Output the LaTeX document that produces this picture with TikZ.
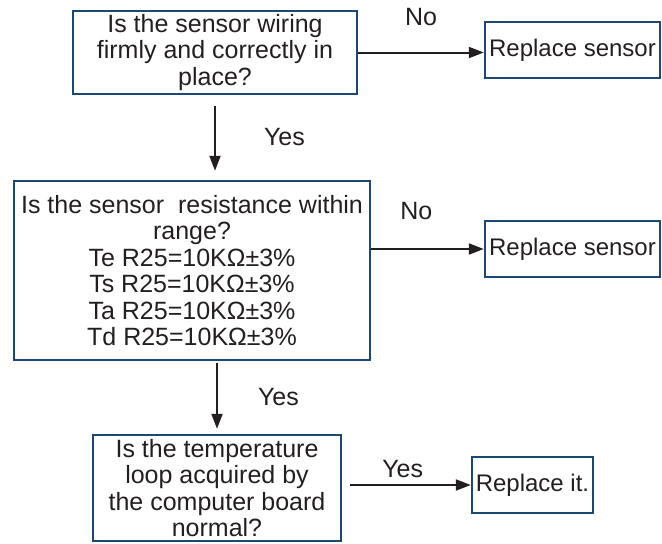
\documentclass[tikz,border=0pt]{standalone}
\usepackage{fontspec}
\setmainfont{Liberation Sans}
\usetikzlibrary{arrows.meta}
\definecolor{boxblue}{RGB}{28,72,118}
\definecolor{inkgray}{RGB}{35,31,32}

\begin{document}
\begin{tikzpicture}[x=1pt,y=-1pt,
  every node/.style={text=inkgray, font=\fontsize{25}{26.4}\selectfont},
  checkbox/.style={draw=boxblue, line width=2.4pt, align=center, inner sep=0pt},
  actionbox/.style={checkbox, minimum height=56pt, font=\fontsize{24}{26}\selectfont},
  flow/.style={draw=inkgray, line width=2pt, -{Triangle[length=15pt,width=11pt]}},
  answer/.style={inner sep=0pt}]

\useasboundingbox (0,0) rectangle (662,544);

% questions
\node[checkbox, minimum width=284pt, minimum height=83pt] (wiring) at (215,52.5)
  {Is the sensor wiring\\firmly and correctly in\\place?};
\node[checkbox, minimum width=356pt, minimum height=179pt] (range) at (192,270.5)
  {Is the sensor~ resistance within\\range?\\Te R25=10KΩ±3\%\\Ts R25=10KΩ±3\%\\Ta R25=10KΩ±3\%\\Td R25=10KΩ±3\%};
\node[checkbox, minimum width=248pt, minimum height=106pt] (loop) at (217,488)
  {Is the temperature\\loop acquired by\\the computer board\\normal?};

% actions
\node[actionbox, minimum width=175pt] (sensorA) at (572.5,50) {Replace sensor};
\node[actionbox, minimum width=175pt] (sensorB) at (572.5,249) {Replace sensor};
\node[actionbox, minimum width=121pt] (replace) at (532.5,485) {Replace it.};

% connectors
\draw[flow] (wiring.east) -- (wiring.east -| sensorA.west)
  node[answer, midway, above=26pt] {No};
\draw[flow, shorten <=11pt, shorten >=9pt] (wiring.south) -- (wiring.south |- range.north)
  node[answer, midway, right=48pt] {Yes};
\draw[flow] (range.east |- sensorB.west) -- (sensorB.west)
  node[answer, pos=.4, above=28pt] {No};
\draw[flow, shorten <=2pt, shorten >=5pt] (loop.north |- range.south) -- (loop.north)
  node[answer, midway, right=40pt] {Yes};
\draw[flow, shorten <=8pt] (loop.east |- replace.west) -- (replace.west)
  node[answer, pos=.47, above=6pt] {Yes};

\end{tikzpicture}
\end{document}
